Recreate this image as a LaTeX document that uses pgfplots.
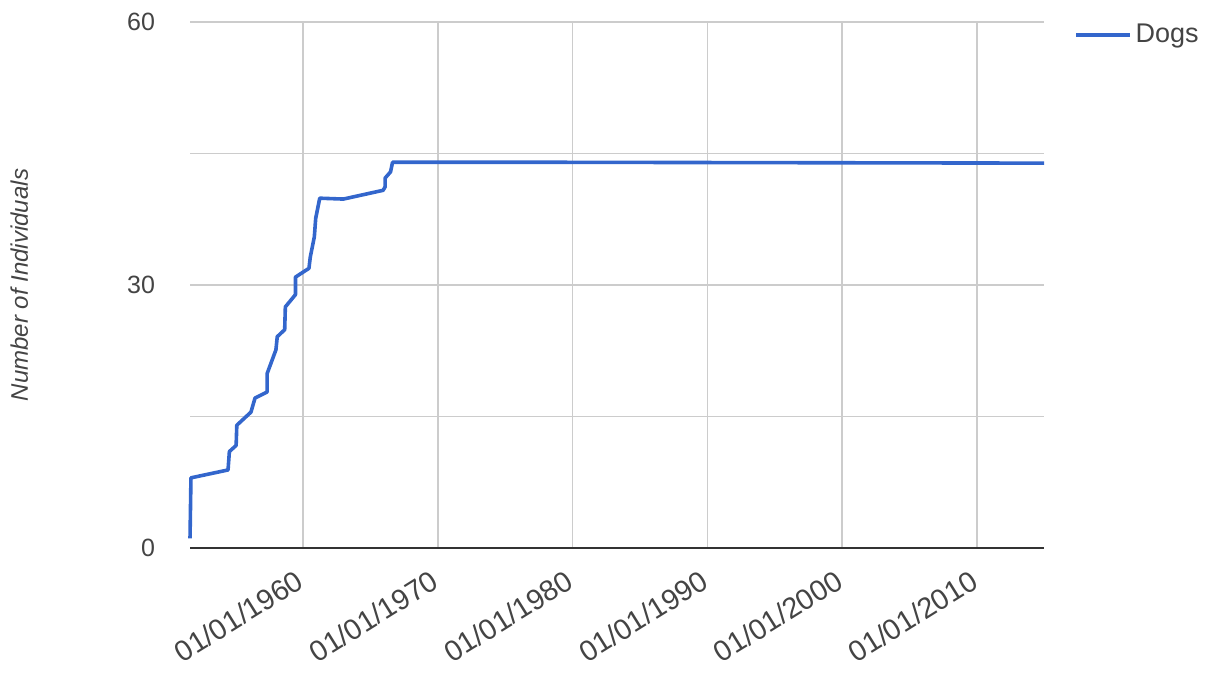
\documentclass[border=0pt]{standalone}
\usepackage{fontspec}
\setmainfont{Liberation Sans}
\usepackage{pgfplots}
\pgfplotsset{compat=1.18}
\definecolor{gblue}{HTML}{3366CC}
\definecolor{ggrid}{HTML}{CCCCCC}
\definecolor{gtext}{HTML}{444444}
\definecolor{gaxis}{HTML}{333333}
\begin{document}
\begin{tikzpicture}
\begin{axis}[
    scale only axis,
    width=427pt, height=263pt,
    xmin=1951.63, xmax=2014.96,
    ymin=0, ymax=60,
    axis x line*=bottom, axis y line*=left,
    x axis line style={gaxis, line width=1.2pt, -},
    y axis line style={draw=none},
    xtick={1960,1970,1980,1990,2000,2010},
    xticklabels={01/01/1960,01/01/1970,01/01/1980,01/01/1990,01/01/2000,01/01/2010},
    ytick={0,30,60},
    minor ytick={15,45},
    major tick length=0pt, minor tick length=0pt,
    grid=both,
    major grid style={ggrid, line width=0.8pt},
    minor grid style={ggrid, line width=0.8pt},
    tick label style={font=\fontsize{12.5}{14}\selectfont, text=gtext},
    /pgf/number format/assume math mode=true,
    xticklabel style={font=\fontsize{14.5}{16}\selectfont, rotate=32, anchor=north east, yshift=-3pt, xshift=-5.5pt},
    yticklabel style={xshift=-14pt},
    ylabel={\itshape Number of Individuals},
    every axis y label/.style={at={(rel axis cs:-0.2,0.5)}, rotate=90, anchor=center,
        font=\fontsize{12}{14}\selectfont, text=gtext},
    legend style={at={(rel axis cs:1.028,1.012)}, anchor=north west, draw=none,
        font=\fontsize{13.5}{15}\selectfont, text=gtext, fill=none},
    legend cell align=left,
    legend image code/.code={\draw[#1, line width=1.7pt] (0pt,0pt) -- (27pt,0pt);},
    clip=false,
]
\addplot[gblue, line width=1.8pt, line join=round] coordinates {
(1951.63, 1.1)
(1951.70, 8.0)
(1954.45, 8.9)
(1954.55, 11.0)
(1955.05, 11.7)
(1955.10, 14.0)
(1956.15, 15.5)
(1956.45, 17.1)
(1957.35, 17.8)
(1957.35, 19.9)
(1958.00, 22.6)
(1958.10, 24.1)
(1958.65, 24.9)
(1958.70, 27.5)
(1959.45, 28.9)
(1959.45, 30.9)
(1960.45, 31.9)
(1960.55, 33.2)
(1960.85, 35.5)
(1960.95, 37.6)
(1961.25, 39.9)
(1963.00, 39.8)
(1965.95, 40.8)
(1966.10, 41.2)
(1966.10, 42.2)
(1966.50, 42.9)
(1966.65, 44.0)
(1977.50, 44.0)
(2014.96, 43.9)
};
\addlegendentry{Dogs}
\path (rel axis cs:-0.2225,-0.2281) (rel axis cs:1.2014,1.0418);
\end{axis}
\end{tikzpicture}
\end{document}
